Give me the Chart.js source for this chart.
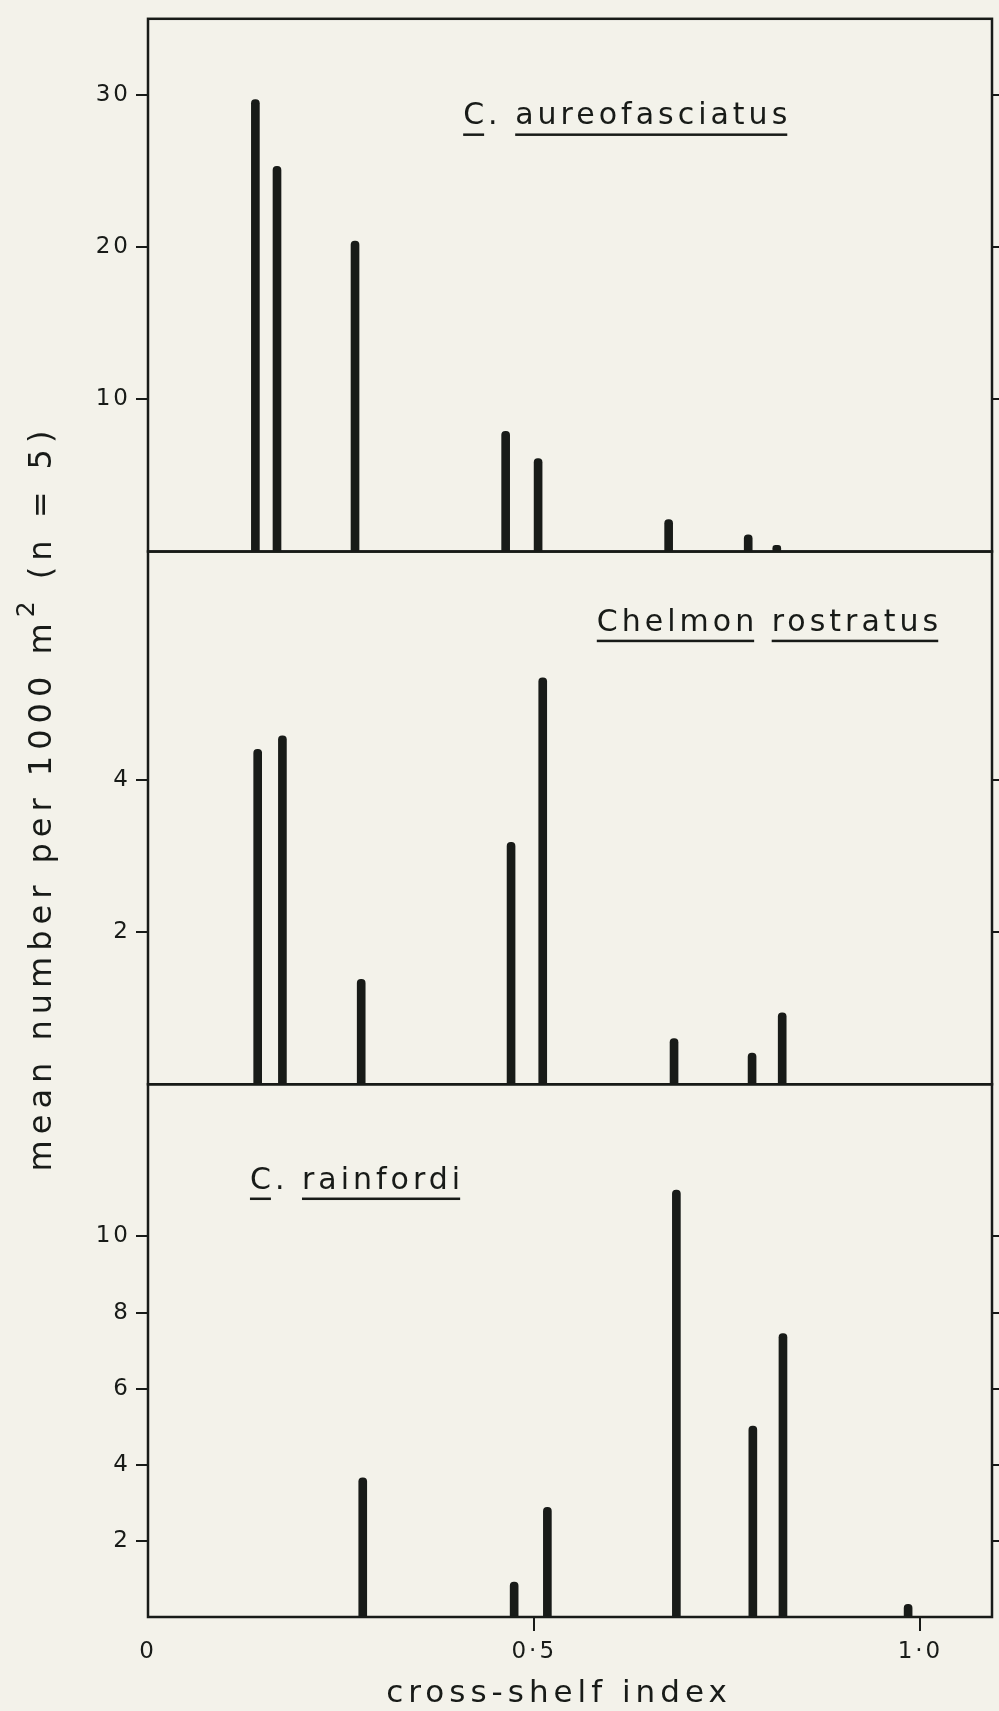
<!DOCTYPE html>
<html>
<head>
<meta charset="utf-8">
<title>Cross-shelf distribution of butterflyfishes</title>
<script src="https://cdn.jsdelivr.net/npm/chart.js@4.4.1/dist/chart.umd.min.js"></script>
<style>
  html, body { margin: 0; padding: 0; background: #f3f2ea; overflow: hidden; }
  canvas { display: block; }
</style>
</head>
<body>
<canvas id="shelfChart" width="999" height="1711"></canvas>
<script>
// reef positions (cross-shelf index) and mean number per 1000 m2
const aureoIndex = [0.139, 0.167, 0.268, 0.463, 0.505, 0.674, 0.777, 0.814];
const aureoMean = [29.7, 25.3, 20.4, 7.9, 6.1, 2.1, 1.1, 0.4];

const chelmonIndex = [0.142, 0.174, 0.276, 0.470, 0.511, 0.681, 0.782, 0.821];
const chelmonMean = [4.4, 4.58, 1.38, 3.18, 5.34, 0.6, 0.41, 0.94];

const rainfordiIndex = [0.278, 0.474, 0.517, 0.684, 0.783, 0.822, 0.984];
const rainfordiMean = [3.66, 0.92, 2.88, 11.22, 5.02, 7.45, 0.33];

// ticks
const xTickValues = [0, 0.5, 1.0];
const xTickLabels = ['0', '0·5', '1·0'];
const aureoTicks = [10, 20, 30];
const chelmonTicks = [2, 4];
const rainfordiTicks = [2, 4, 6, 8, 10];

const speciesNames = ['C. aureofasciatus', 'Chelmon rostratus', 'C. rainfordi'];

const ink = '#181b18';
const family = '"DejaVu Sans", sans-serif';
Chart.defaults.font.family = family;
Chart.defaults.color = ink;

const panelAxes = ['yA', 'yB', 'yC'];

function leftAxis(max, ticks, weight) {
  return {
    type: 'linear', position: 'left', stack: 'left', weight: weight,
    min: 0, max: max,
    afterBuildTicks: axis => { axis.ticks = ticks.map(v => ({ value: v })); },
    afterFit: axis => { axis.width = 148; },
    ticks: { padding: 5, font: { size: 23 }, color: ink },
    grid: { drawOnChartArea: false, offset: false, tickLength: 12, lineWidth: 2, color: ink },
    border: { display: false }
  };
}

function rightAxis(max, ticks, weight) {
  return {
    type: 'linear', position: 'right', stack: 'right', weight: weight,
    min: 0, max: max,
    afterBuildTicks: axis => { axis.ticks = ticks.map(v => ({ value: v })); },
    afterFit: axis => { axis.width = 7; },
    ticks: { display: false },
    grid: { drawOnChartArea: false, offset: false, tickLength: 7, lineWidth: 2, color: ink },
    border: { display: false }
  };
}

function stems(label, xs, ys, axisId) {
  return {
    label: label,
    data: xs.map((x, i) => ({ x: x, y: ys[i] })),
    yAxisID: axisId,
    backgroundColor: ink,
    barThickness: 8,
    borderRadius: { topLeft: 4, topRight: 4 },
    grouped: false
  };
}

// frame, species names and axis titles
const platePlugin = {
  id: 'plate',
  beforeDraw(chart) {
    chart.ctx.letterSpacing = '3px';
  },
  afterDatasetsDraw(chart, args, opts) {
    const { ctx, chartArea, scales } = chart;
    ctx.save();
    ctx.strokeStyle = ink;
    ctx.fillStyle = ink;
    ctx.lineWidth = 2.5;
    panelAxes.forEach(id => {
      const s = scales[id];
      ctx.strokeRect(chartArea.left, s.top, chartArea.right - chartArea.left, s.bottom - s.top);
    });

    // species names, each word underlined
    ctx.font = '30px ' + family;
    ctx.letterSpacing = '4px';
    ctx.textAlign = 'left';
    ctx.textBaseline = 'alphabetic';
    const space = ctx.measureText(' ').width;
    speciesNames.forEach((name, p) => {
      const a = opts.anchors[p];
      let x = scales.x.getPixelForValue(a.x);
      const y = scales[panelAxes[p]].getPixelForValue(a.y);
      name.split(' ').forEach(word => {
        ctx.fillText(word, x, y);
        const w = ctx.measureText(word.replace(/\.$/, '')).width - 4;
        ctx.fillRect(x, y + 9, w, 2.5);
        x += ctx.measureText(word).width + space;
      });
    });

    // x title
    ctx.font = '31px ' + family;
    ctx.letterSpacing = '5px';
    ctx.textAlign = 'center';
    ctx.fillText(opts.xTitle, opts.xTitlePos.x, opts.xTitlePos.y);

    // y title, rotated, with superscript
    ctx.save();
    ctx.translate(opts.yTitlePos.x, opts.yTitlePos.y);
    ctx.rotate(-Math.PI / 2);
    ctx.textAlign = 'left';
    ctx.letterSpacing = '6px';
    const parts = opts.yTitle;
    let total = 0;
    parts.forEach(pt => {
      ctx.font = pt.size + 'px ' + family;
      total += ctx.measureText(pt.text).width;
    });
    let tx = -total / 2;
    parts.forEach(pt => {
      ctx.font = pt.size + 'px ' + family;
      ctx.fillText(pt.text, tx, -(pt.raise || 0));
      tx += ctx.measureText(pt.text).width;
    });
    ctx.restore();
    ctx.restore();
  }
};

new Chart(document.getElementById('shelfChart'), {
  type: 'bar',
  data: {
    datasets: [
      stems(speciesNames[0], aureoIndex, aureoMean, 'yA'),
      stems(speciesNames[1], chelmonIndex, chelmonMean, 'yB'),
      stems(speciesNames[2], rainfordiIndex, rainfordiMean, 'yC')
    ]
  },
  options: {
    responsive: false,
    animation: false,
    events: [],
    layout: { padding: { top: 12, left: 0, right: 0, bottom: 0 } },
    plugins: {
      legend: { display: false },
      tooltip: { enabled: false },
      plate: {
        anchors: [{ x: 0.408, y: 28.06 }, { x: 0.581, y: 5.96 }, { x: 0.132, y: 11.26 }],
        xTitle: 'cross-shelf index',
        xTitlePos: { x: 559, y: 1702 },
        yTitle: [
          { text: 'mean number per 1000 m', size: 32 },
          { text: '2', size: 25, raise: 17 },
          { text: ' (n = 5)', size: 32 }
        ],
        yTitlePos: { x: 51, y: 798 }
      }
    },
    scales: {
      x: {
        type: 'linear', position: 'bottom', min: 0, max: 1.0926, offset: false,
        afterBuildTicks: axis => { axis.ticks = xTickValues.map(v => ({ value: v })); },
        afterFit: axis => { axis.height = 94; },
        ticks: {
          callback: v => xTickLabels[xTickValues.indexOf(v)],
          autoSkip: false, maxRotation: 0, padding: 7,
          font: { size: 23 }, color: ink
        },
        grid: {
          drawOnChartArea: false, offset: false, tickLength: 14, lineWidth: 2,
          color: c => (c.tick && c.tick.value === 0 ? 'rgba(0,0,0,0)' : ink)
        },
        border: { display: false }
      },
      yA: leftAxis(35, aureoTicks, 3),
      yB: leftAxis(7, chelmonTicks, 2),
      yC: leftAxis(14, rainfordiTicks, 1),
      yAr: rightAxis(35, aureoTicks, 1),
      yBr: rightAxis(7, chelmonTicks, 2),
      yCr: rightAxis(14, rainfordiTicks, 3)
    }
  },
  plugins: [platePlugin]
});
</script>
</body>
</html>
